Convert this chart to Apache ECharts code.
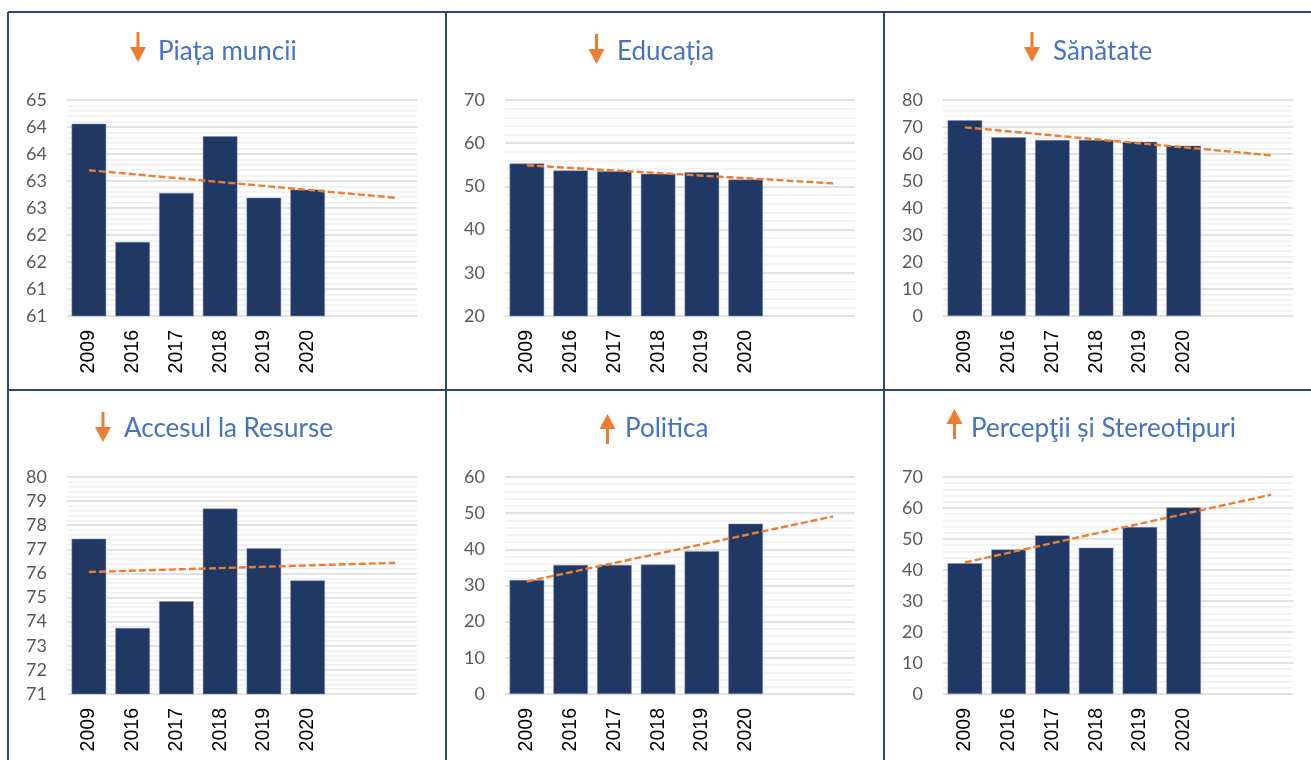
<!DOCTYPE html>
<html>
<head>
<meta charset="utf-8">
<script src="https://cdn.jsdelivr.net/npm/echarts@6/dist/echarts.min.js"></script>
<style>
html,body{margin:0;padding:0;background:#fff;}
#c{width:1311px;height:760px;}
</style>
</head>
<body>
<div id="c"></div>
<script>
// ---- data ----
const years = ['2009', '2016', '2017', '2018', '2019', '2020'];
const forecastSlots = ['', ''];

const piataMuncii    = [64.16, 61.97, 62.88, 63.93, 62.79, 62.94];
const educatia       = [55.3, 53.7, 53.5, 52.9, 53.3, 51.6];
const sanatate       = [72.5, 66.2, 65.2, 65.2, 64.5, 63.1];
const accesulResurse = [77.44, 73.74, 74.85, 78.69, 77.04, 75.71];
const politica       = [31.5, 35.7, 35.7, 35.8, 39.5, 47.1];
const perceptii      = [42.2, 46.6, 51.15, 47.2, 53.85, 60.2];

// trend line end points (first category, last forecast slot)
const trendPiata     = [63.30, 62.79];
const trendEducatia  = [54.88, 50.71];
const trendSanatate  = [69.88, 59.51];
const trendAccesul   = [76.06, 76.44];
const trendPolitica  = [31.1, 49.1];
const trendPerceptii = [42.43, 64.29];

const titles = ['Piața muncii', 'Educația', 'Sănătate', 'Accesul la Resurse', 'Politica', 'Percepţii și Stereotipuri'];
const directions = ['down', 'down', 'down', 'down', 'up', 'up'];

// y axis ranges [min, max, interval]
const yMin = [60.6, 20, 0, 71, 0, 0];
const yMax = [64.6, 70, 80, 80, 60, 70];
const yStep = [0.5, 10, 10, 1, 10, 10];

// ---- layout / styles ----
const seriesData = [piataMuncii, educatia, sanatate, accesulResurse, politica, perceptii];
const trends = [trendPiata, trendEducatia, trendSanatate, trendAccesul, trendPolitica, trendPerceptii];
const categories = years.concat(forecastSlots);

const gridPos = [
  {left: 67, top: 100, width: 350, height: 216},
  {left: 505, top: 100, width: 350, height: 216},
  {left: 943, top: 100, width: 350, height: 216},
  {left: 67, top: 477, width: 350, height: 217},
  {left: 505, top: 477, width: 350, height: 217},
  {left: 943, top: 477, width: 350, height: 217}
];
const titlePos = [
  {left: 158, top: 37}, {left: 617, top: 37}, {left: 1053, top: 37},
  {left: 124, top: 414}, {left: 625, top: 414}, {left: 971, top: 414}
];
const arrowPos = [
  {cx: 138, y0: 32, y1: 62}, {cx: 596.5, y0: 34, y1: 64}, {cx: 1032, y0: 32, y1: 62},
  {cx: 103, y0: 412, y1: 442}, {cx: 607.5, y0: 414, y1: 444}, {cx: 954.5, y0: 409, y1: 439}
];

const BAR = '#203864';
const ORANGE = '#ED7D31';
const TITLE = '#4472C4';
const BORDER = '#2F4575';

const grid = [], xAxis = [], yAxis = [], series = [], title = [];
for (let i = 0; i < 6; i++) {
  grid.push(Object.assign({}, gridPos[i]));
  xAxis.push({
    type: 'category', gridIndex: i, data: categories,
    axisLine: {show: false}, axisTick: {show: false},
    axisLabel: {rotate: 90, margin: 14, color: '#000', fontFamily: 'Liberation Sans', fontSize: 19.5, interval: 0}
  });
  yAxis.push({
    type: 'value', gridIndex: i, min: yMin[i], max: yMax[i], interval: yStep[i],
    axisLine: {show: false}, axisTick: {show: false},
    axisLabel: {margin: 20, color: '#595959', fontFamily: 'Lato', fontSize: 18,
      formatter: v => String(Math.round(v))},
    splitLine: {show: true, lineStyle: {color: '#d9d9d9', width: 1.5}},
    minorTick: {show: false, splitNumber: 5},
    minorSplitLine: {show: true, lineStyle: {color: '#efefef', width: 1.5}}
  });
  series.push({
    type: 'bar', xAxisIndex: i, yAxisIndex: i, data: seriesData[i],
    barWidth: '79%', itemStyle: {color: BAR, borderColor: '#7f8fb0', borderWidth: 0.5},
    animation: false
  });
  const t = trends[i];
  const trendData = categories.map((c, k) => k === 0 ? t[0] : (k === categories.length - 1 ? t[1] : null));
  series.push({
    type: 'line', xAxisIndex: i, yAxisIndex: i, data: trendData, connectNulls: true,
    showSymbol: false, symbol: 'none', z: 5,
    lineStyle: {color: ORANGE, width: 2.4, type: [7, 3]},
    animation: false
  });
  title.push({
    text: titles[i], left: titlePos[i].left, top: titlePos[i].top, padding: 0,
    textStyle: {color: TITLE, fontFamily: 'Lato', fontSize: 26, fontWeight: 'normal', lineHeight: 30}
  });
}

const graphic = [];
// panel borders
const lines = [
  [8, 12, 1311, 12], [8, 390, 1311, 390],
  [8, 12, 8, 760], [446, 12, 446, 760], [884, 12, 884, 760]
];
lines.forEach(l => graphic.push({
  type: 'line', shape: {x1: l[0], y1: l[1], x2: l[2], y2: l[3]},
  style: {stroke: BORDER, lineWidth: 2}, silent: true
}));
// trend arrows
arrowPos.forEach((a, i) => {
  const down = directions[i] === 'down';
  const headH = 15, half = 8, sw = 3;
  if (down) {
    graphic.push({type: 'rect', shape: {x: a.cx - sw / 2, y: a.y0, width: sw, height: a.y1 - a.y0 - headH + 1}, style: {fill: ORANGE}});
    graphic.push({type: 'polygon', shape: {points: [[a.cx - half, a.y1 - headH], [a.cx + half, a.y1 - headH], [a.cx, a.y1]]}, style: {fill: ORANGE}});
  } else {
    graphic.push({type: 'rect', shape: {x: a.cx - sw / 2, y: a.y0 + headH - 1, width: sw, height: a.y1 - a.y0 - headH + 1}, style: {fill: ORANGE}});
    graphic.push({type: 'polygon', shape: {points: [[a.cx - half, a.y0 + headH], [a.cx + half, a.y0 + headH], [a.cx, a.y0]]}, style: {fill: ORANGE}});
  }
});

const chart = echarts.init(document.getElementById('c'), null, {renderer: 'canvas'});
chart.setOption({
  backgroundColor: '#fff',
  animation: false,
  title, grid, xAxis, yAxis, series, graphic
});
</script>
</body>
</html>
